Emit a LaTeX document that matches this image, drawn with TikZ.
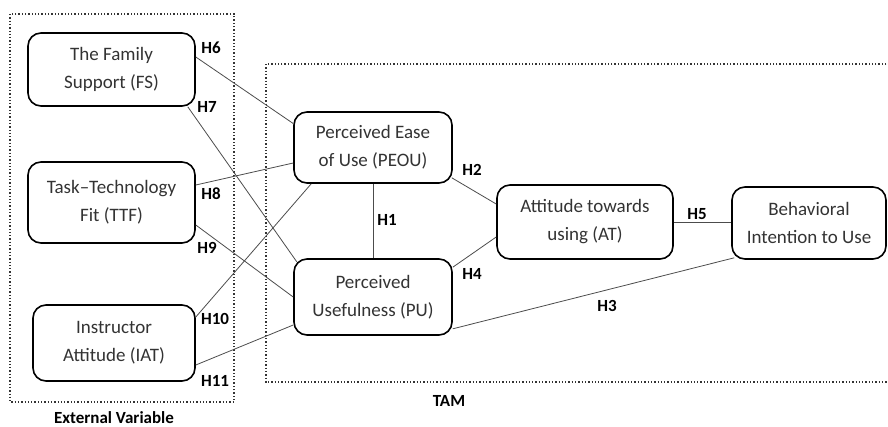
\documentclass[tikz,border=0pt]{standalone}
\usepackage{fontspec}
\setmainfont{Carlito}
\usetikzlibrary{positioning, calc}

\tikzset{
  varbox/.style={draw=black, line width=1.6pt, rounded corners=13pt, align=center,
    text=black!80, font=\fontsize{19}{28}\selectfont, inner sep=0pt},
  hlabel/.style={font=\fontsize{17}{20}\selectfont\bfseries, text=black, inner sep=0pt},
  link/.style={draw=black!70, line width=0.8pt},
  groupbox/.style={draw=black!80, dotted, line width=1.3pt}
}

\begin{document}
\begin{tikzpicture}[x=1pt, y=-1pt]
\useasboundingbox (0,0) rectangle (888,426);
\draw[groupbox] (10,14) rectangle (234,402);
\draw[groupbox] (266,64) rectangle (900,382);
\node[hlabel] (extlabel) at (114,417.5) {External Variable};
\node[hlabel] (tamlabel) at (449,401) {TAM};

\node[varbox, minimum width=167pt, minimum height=73pt] (FS) at (111.5,69.5) {The Family\\Support (FS)};
\node[varbox, minimum width=167pt, minimum height=81pt] (TTF) at (111.5,202.5) {Task--Technology\\Fit (TTF)};
\node[varbox, minimum width=162pt, minimum height=76pt] (IAT) at (114,343) {Instructor\\Attitude (IAT)};
\node[varbox, minimum width=158pt, minimum height=71pt] (PEOU) at (373,147.5) {Perceived Ease\\of Use (PEOU)};
\node[varbox, minimum width=158pt, minimum height=76pt] (PU) at (373,297) {Perceived\\Usefulness (PU)};
\node[varbox, minimum width=176pt, minimum height=74pt] (AT) at (585,222) {Attitude towards\\using (AT)};
\node[varbox, minimum width=154pt, minimum height=72pt] (BI) at (809,223) {Behavioral\\Intention to Use};

\draw[link] ([yshift=12.5pt]FS.east) -- ([yshift=24pt]PEOU.west);
\draw[link] ([xshift=-8pt]FS.south east) -- ([xshift=3.5pt,yshift=-3.5pt]PU.north west);
\draw[link] ([yshift=17.5pt]TTF.east) -- ([yshift=-15.5pt]PEOU.west);
\draw[link] ([yshift=-22.5pt]TTF.east) -- (PU.west);
\draw[link] ([yshift=26pt]IAT.east) -- ([xshift=18pt]PEOU.south west);
\draw[link] ([yshift=-22pt]IAT.east) -- ([yshift=-28pt]PU.west);
\draw[link] (PEOU.south) -- (PU.north);
\draw[link] ([xshift=-1pt,yshift=6pt]PEOU.south east) -- ([yshift=18pt]AT.west);
\draw[link] ([yshift=-9pt]PU.north east) -- ([yshift=-15pt]AT.west);
\draw[link] (AT.east) -- (AT.east -| BI.west);
\draw[link] ([yshift=7pt]PU.south east) -- ([xshift=3pt,yshift=2pt]BI.south west);

\node[hlabel] (h6) at (211,48) {H6};
\node[hlabel] (h7) at (207,107) {H7};
\node[hlabel] (h8) at (211,194) {H8};
\node[hlabel] (h9) at (207,248) {H9};
\node[hlabel] (h10) at (215,319) {H10};
\node[hlabel] (h11) at (215,381) {H11};
\node[hlabel] (h1) at (387,220) {H1};
\node[hlabel] (h2) at (472,170) {H2};
\node[hlabel] (h4) at (472,274) {H4};
\node[hlabel] (h5) at (697,214) {H5};
\node[hlabel] (h3) at (607,306) {H3};
\end{tikzpicture}
\end{document}
